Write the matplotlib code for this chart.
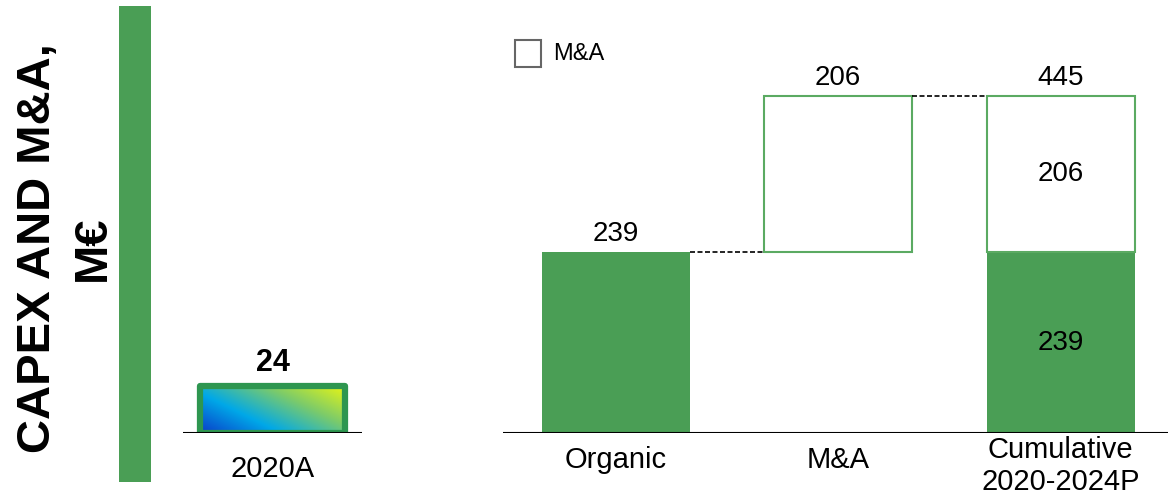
import numpy as np
import matplotlib.pyplot as plt
from matplotlib.patches import Rectangle
from matplotlib.colors import LinearSegmentedColormap
from matplotlib.transforms import ScaledTranslation

plt.rcParams['font.family'] = ['Liberation Sans', 'DejaVu Sans']

# data
categories = ["Organic", "M&A", "Cumulative\n2020-2024P"]
organic = 239
ma = 206
total = organic + ma
capex_label = "2020A"
capex_value = 24

green = "#4A9E55"
green_line = "#5BAA62"
green_dark = "#2E9650"

W, H = 1168, 499
fig = plt.figure(figsize=(W / 100, H / 100), dpi=100)


def fx(px):
    return px / W


def fy(py):
    return 1 - py / H


# title and green band
fig.text(fx(65), fy(248), "CAPEX AND M&A,\nM€", rotation=90, ha="center", va="center",
         fontsize=34, fontweight="bold", multialignment="center", linespacing=1.32)
fig.patches.append(Rectangle((fx(119), fy(482)), fx(32), 476 / H, transform=fig.transFigure,
                             facecolor=green, edgecolor="none"))

# small 2020A chart
ax0 = fig.add_axes([fx(183), fy(433), fx(179), 100 / H])
px_unit0 = 47.5 / capex_value
ax0.set_xlim(0, 1)
ax0.set_ylim(0, 100 / px_unit0)
bw0 = 145 / 179
grad = np.linspace(0, 1, 200)
gx, gy = np.meshgrid(grad, grad)
vals = 0.6 * gx + 0.4 * gy
cmap = LinearSegmentedColormap.from_list("g", ["#0A3CC8", "#00A8E8", "#7CCB6A", "#EAF612"])
bar0 = ax0.bar([0.5], [capex_value], width=bw0, facecolor="none", edgecolor=green_dark,
               linewidth=4.5, zorder=3, joinstyle="round")[0]
im = ax0.imshow(vals, cmap=cmap, origin="lower", aspect="auto",
                extent=(0.5 - bw0 / 2, 0.5 + bw0 / 2, 0, capex_value), zorder=2)
im.set_clip_path(bar0)
ax0.axhline(0, color="black", linewidth=1.5, zorder=4)
ax0.text(0.5, capex_value + 4, str(capex_value), ha="center", va="bottom",
         fontsize=22, fontweight="bold")
ax0.set_xticks([0.5])
ax0.set_xticklabels([capex_label], fontsize=21)
ax0.tick_params(axis="x", length=0, pad=16)
ax0.set_yticks([])
for s in ax0.spines.values():
    s.set_visible(False)
ax0.set_xlim(0, 1)

# waterfall
ax = fig.add_axes([fx(503), fy(433), fx(665), 433 / H])
px_unit = 181 / organic
ax.set_xlim(-0.506, 2.483)
ax.set_ylim(0, 433 / px_unit)
bw = 148 / 222.5
x = np.arange(len(categories))

ax.bar(x[0], organic, width=bw, color=green, zorder=2)
ax.bar(x[1], ma, bottom=organic, width=bw, facecolor="white", edgecolor=green_line,
       linewidth=1.5, zorder=2)
ax.bar(x[2], organic, width=bw, color=green, zorder=2)
ax.bar(x[2], ma, bottom=organic, width=bw, facecolor="white", edgecolor=green_line,
       linewidth=1.5, zorder=2)

ax.plot([x[0] + bw / 2, x[1] - bw / 2], [organic, organic], color="black",
        linestyle=(0, (3, 1.5)), linewidth=1.2)
ax.plot([x[1] + bw / 2, x[2] - bw / 2], [total, total], color="black",
        linestyle=(0, (3, 1.5)), linewidth=1.2)

off = 7
ax.text(x[0], organic + off, str(organic), ha="center", va="bottom", fontsize=20)
ax.text(x[1], total + off, str(ma), ha="center", va="bottom", fontsize=20)
ax.text(x[2], total + off, str(total), ha="center", va="bottom", fontsize=20)
ax.text(x[2], organic + ma / 2, str(ma), ha="center", va="center", fontsize=20)
ax.text(x[2], organic / 2, str(organic), ha="center", va="center", fontsize=20)

ax.axhline(0, color="black", linewidth=1.5, zorder=3)
ax.set_xticks(x)
ax.set_xticklabels(categories, fontsize=21, linespacing=1.2)
ax.tick_params(axis="x", length=0, pad=9)
ax.set_yticks([])
for s in ax.spines.values():
    s.set_visible(False)
# two-line label sits higher than the others
lab = ax.get_xticklabels()[2]
lab.set_transform(lab.get_transform() + ScaledTranslation(0, 10 / 100, fig.dpi_scale_trans))

# legend
fig.patches.append(Rectangle((fx(515), fy(67)), fx(26), 27 / H, transform=fig.transFigure,
                             facecolor="white", edgecolor="#666666", linewidth=1.5))
fig.text(fx(553), fy(54), "M&A", ha="left", va="center", fontsize=17)

fig.savefig("out.png", dpi=100)
